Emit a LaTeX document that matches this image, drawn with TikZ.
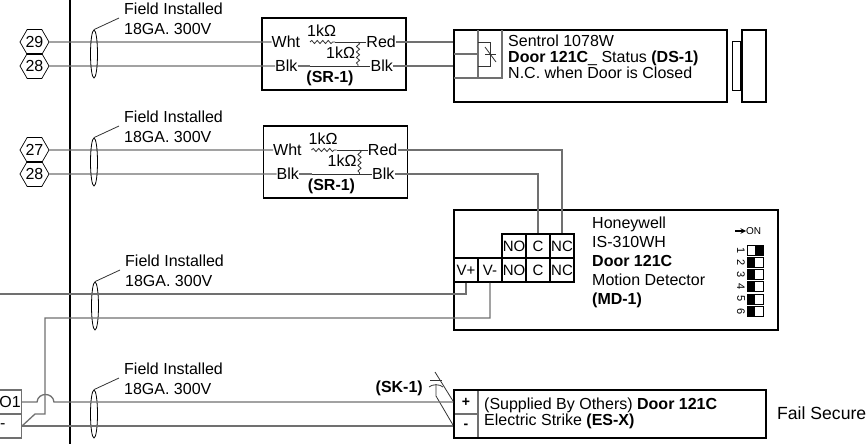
\documentclass[tikz,border=0pt]{standalone}
\usepackage{fontspec}
\setmainfont{Liberation Sans}
\usepackage{tikz}
\usetikzlibrary{positioning, calc, shapes.geometric, decorations.pathmorphing}
\definecolor{wiregray}{HTML}{707070}
\tikzstyle{txt}=[inner sep=0, anchor=west, align=left, font=\fontsize{16}{16}\selectfont]
\tikzstyle{wire}=[draw=wiregray, line width=1.3pt]
\tikzstyle{fine}=[draw=black!80, line width=0.8pt]
\tikzstyle{res}=[fine, decorate, decoration={snake, segment length=5.5pt, amplitude=1.6pt}]
\tikzstyle{box}=[draw, line width=1.6pt, inner sep=0]
\tikzstyle{cell}=[draw, line width=1.6pt, minimum size=24pt, inner sep=0, font=\fontsize{15}{15}\selectfont]
\tikzstyle{graycell}=[draw=wiregray, line width=1.3pt, minimum height=24pt, inner sep=0, font=\fontsize{15}{16}\selectfont]
\tikzstyle{hex}=[draw, regular polygon, regular polygon sides=6, minimum size=27pt, inner sep=0, line width=0.7pt, font=\fontsize{16}{16}\selectfont]
\tikzstyle{cable}=[draw, ellipse, minimum width=7pt, minimum height=48pt, inner sep=0, line width=0.8pt]

\begin{document}
\begin{tikzpicture}[x=1pt, y=-1pt]
    \useasboundingbox (0,0) rectangle (867,444);

    \draw [line width=2.2pt] (70,0) -- (70,444);

    % resistor blocks
    \foreach \b/\t/\dy/\dx in {a/29/0/0, b/27/108/1.5} {
    \node [hex] (hex-\b1) at (34.5,42+\dy) {\t};
    \node [hex] (hex-\b2) at (34.5,66+\dy) {28};
    \node [box, minimum width=144pt, minimum height=72pt] (sr-\b) at (334+\dx,54+\dy) {};
    \node [txt] (wht-\b) at (271.5+\dx,42+\dy) {Wht};
    \node [txt] (blk-\b) at (275+\dx,66+\dy) {Blk};
    \node [txt, anchor=east] (red-\b) at (396+\dx,42+\dy) {Red};
    \node [txt, anchor=east] (blkout-\b) at (393+\dx,66+\dy) {Blk};
    \node [txt] (rone-\b) at (307+\dx,31+\dy) {1kΩ};
    \node [txt] (rtwo-\b) at (326+\dx,53+\dy) {1kΩ};
    \node [txt, anchor=center, font=\fontsize{16}{16}\selectfont\bfseries] (srname-\b) at (330+\dx,78+\dy) {(SR-1)};
    \coordinate (resin-\b) at (310+\dx,42+\dy);
    \coordinate (resout-\b) at (335+\dx,42+\dy);
    \coordinate (restop-\b) at (358+\dx,42+\dy);
    \coordinate (resbot-\b) at (358+\dx,66+\dy);
    \draw [wire] (hex-\b1.east) -- (wht-\b);
    \draw [wire] (hex-\b2.east) -- (blk-\b);
    \draw [res] (resin-\b) -- (resout-\b);
    \draw [fine] (resout-\b) -- (red-\b);
    \draw [res] (restop-\b) -- (resbot-\b);
    \draw [fine] (blk-\b) -- (blkout-\b);
    \draw [wire] (blk-\b) -- (resin-\b |- blk-\b);
    }

    % cables
    \foreach \r/\x/\y in {a/94/54, b/94/162, c/95/306, d/94/414} {
    \node [cable] (cable-\r) at (\x,\y) {};
    \coordinate (lead-\r) at (\x+25,\y-36);
    \node [txt, font=\fontsize{16}{20}\selectfont] (field-\r) at (\x+30,\y-35.5) {Field Installed\\18GA. 300V};
    \draw [fine] (cable-\r.north) -- (lead-\r);
    }

    % door status
    \node [box, minimum width=273pt, minimum height=72pt] (ds) at (590.5,66) {};
    \node [txt] (dstext) at (508,57) {Sentrol 1078W\\\textbf{Door 121C}\_ Status \textbf{(DS-1)}\\N.C. when Door is Closed};
    \draw [wire] (red-a) -- (ds.west |- red-a);
    \draw [wire] (blkout-a) -- (ds.west |- blkout-a);
    \draw [wire] (478,30) -- (478,78);
    \draw [wire] (502,30) -- (502,78) -- (454,78);
    \draw [wire] (454,54) -- (478,54);
    \draw [fine] (478,42) -- (490,42) -- (490,66) -- (478,66);
    \draw [fine] (485,54) -- (496,54);
    \draw [fine] (485,47) -- (496,62);
    \node [box, minimum width=24pt, minimum height=72pt] (magnet) at (754,66) {};
    \node [draw, line width=1pt, minimum width=8pt, minimum height=48pt, inner sep=0, left=0pt of magnet] (tab) {};

    % motion detector
    \node [box, minimum width=324pt, minimum height=120pt] (md) at (616,270) {};
    \foreach \n/\l/\x in {no/NO/514, c/C/538, nc/NC/562} {
    \node [cell] (\n-1) at (\x,246) {\l};
    \node [cell] (\n-2) at (\x,270) {\l};
    }
    \node [cell, font=\fontsize{15}{16}\selectfont] (vp) at (466,270) {V+};
    \node [cell, font=\fontsize{15}{16}\selectfont] (vm) at (490,270) {V-};
    \node [txt, font=\fontsize{16}{19}\selectfont] (mdtext) at (592,262) {Honeywell\\IS-310WH\\\textbf{Door 121C}\\Motion Detector\\\textbf{(MD-1)}};
    \draw [wire] (red-b) -| (nc-1.north);
    \draw [wire] (blkout-b) -| (c-1.north);

    % dip switch
    \node [txt, font=\fontsize{10}{10}\selectfont] (dipon) at (746,231) {ON};
    \draw [line width=1.4pt, -stealth] (735,231) -- (dipon.west);
    \foreach \i in {1,...,6} {
    \node [txt, anchor=center, rotate=-90, font=\fontsize{11}{11}\selectfont] (dipnum-\i) at (741,238+\i*12.2) {\i};
    \node [draw, line width=0.8pt, minimum width=16pt, minimum height=10pt, inner sep=0] (dip-\i) at (755,238+\i*12.2) {};
    }
    \fill (755,245) rectangle (763,255);
    \foreach \i in {2,...,6}
    \fill (dip-\i.south west) rectangle (dip-\i.north);

    % strike
    \node [graycell, minimum width=24pt, font=\fontsize{14}{14}\selectfont\bfseries] (plus) at (466,402) {+};
    \node [graycell, minimum width=24pt, font=\fontsize{14}{14}\selectfont\bfseries] (minus) at (466,426) {-};
    \node [box, minimum width=312pt, minimum height=48pt] (es) at (610,414) {};
    \node [txt] (estext) at (484,413) {(Supplied By Others) \textbf{Door 121C}\\Electric Strike \textbf{(ES-X)}};
    \node [txt, font=\fontsize{17.6}{18}\selectfont] (fail) at (777,413) {Fail Secure};
    \node [txt, anchor=east, font=\fontsize{16}{16}\selectfont\bfseries] (skname) at (423,388) {(SK-1)};
    \draw [fine] (435,372) -- (453,401);
    \draw [fine] (436,384) -- (436,396) -- (453,425);
    \draw [fine] (430,380) -- (442,380);
    \draw [fine] (429,387) .. controls (432,384) and (440,384) .. (443,387);

    % controller end
    \node [graycell, minimum width=30pt, anchor=east] (doa) at (22,402) {};
    \node [graycell, minimum width=30pt, anchor=east] (dob) at (22,426) {};
    \node [txt, anchor=east] (doatext) at (21,402) {O1};
    \node [txt] (dobtext) at (0,426) {-};
    \coordinate (left-c) at (0,294);
    \coordinate (turn-a) at (45,318);
    \coordinate (turn-b) at (45,414);
    \coordinate (turn-c) at (35,414);
    \coordinate (hop-a) at (37,402);
    \coordinate (hop-b) at (54,402);
    \draw [wire] (vp.south) |- (left-c);
    \draw [wire] (vm.south) |- (turn-a) -- (turn-b) -- (turn-c) -- (dob.east);
    \draw [wire] (doa.east) -- (hop-a) .. controls +(1,-10) and +(-1,-10) .. (hop-b) -- (plus.west);
    \draw [wire] (dob.east) -- (minus.west);

\end{tikzpicture}
\end{document}
